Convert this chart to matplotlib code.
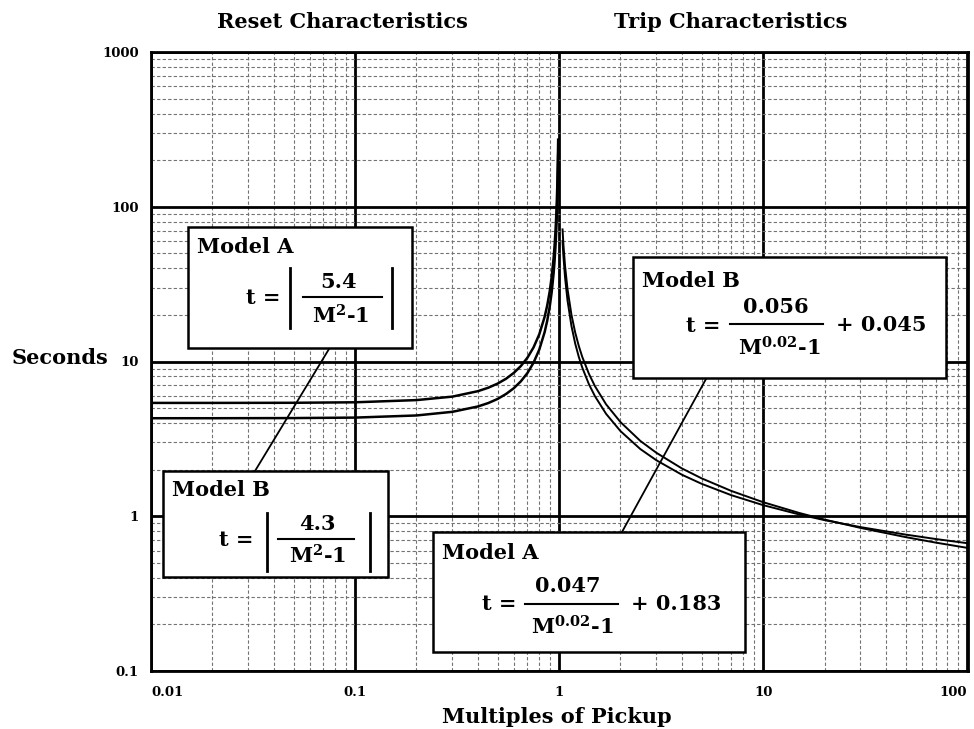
import matplotlib
matplotlib.use("Agg")
import matplotlib.pyplot as plt
from matplotlib.lines import Line2D
from matplotlib.patches import Rectangle
from matplotlib.ticker import LogLocator, NullFormatter, FixedLocator

# ---------------- data ----------------
reset_m = [0.01, 0.02, 0.05, 0.1, 0.2, 0.3, 0.4, 0.45, 0.5, 0.55, 0.6, 0.65, 0.7, 0.75, 0.8,
           0.85, 0.875, 0.9, 0.92, 0.94, 0.95, 0.96, 0.965, 0.97, 0.975, 0.98, 0.985, 0.99]
reset_a_t = [5.40, 5.40, 5.41, 5.45, 5.63, 5.93, 6.43, 6.77, 7.20, 7.74, 8.44, 9.35, 10.59,
             12.34, 15.0, 19.46, 23.04, 28.42, 35.16, 46.39, 55.38, 68.88, 78.52, 91.37,
             109.4, 136.4, 181.4, 271.4]
reset_b_t = [4.30, 4.30, 4.31, 4.34, 4.48, 4.73, 5.12, 5.39, 5.73, 6.17, 6.72, 7.45, 8.43,
             9.83, 11.94, 15.50, 18.35, 22.63, 27.99, 36.94, 44.10, 54.85, 62.52, 72.76,
             87.09, 108.6, 144.4, 216.1]

trip_m = [1.04, 1.05, 1.07, 1.1, 1.15, 1.2, 1.25, 1.3, 1.4, 1.5, 1.7, 2, 2.5, 3, 4, 5, 7,
          10, 15, 20, 30, 50, 70, 100]
trip_a_t = [60.08, 48.32, 34.89, 24.82, 16.97, 13.05, 10.69, 9.12, 7.14, 5.96, 4.59, 3.55,
            2.72, 2.30, 1.855, 1.620, 1.367, 1.180, 1.028, 0.944, 0.851, 0.761, 0.713, 0.670]
trip_b_t = [71.41, 57.40, 41.40, 29.40, 20.05, 15.37, 12.57, 10.69, 8.34, 6.92, 5.29, 4.06,
            3.07, 2.57, 2.037, 1.757, 1.456, 1.233, 1.051, 0.952, 0.841, 0.733, 0.676, 0.625]

x_ticks = [0.01, 0.1, 1, 10, 100]
x_tick_labels = ["0.01", "0.1", "1", "10", "100"]
y_ticks = [0.1, 1, 10, 100, 1000]
y_tick_labels = ["0.1", "1", "10", "100", "1000"]

# ---------------- style ----------------
FONT = 'DejaVu Serif'
plt.rcParams['font.family'] = [FONT]
plt.rcParams['font.weight'] = 'bold'
plt.rcParams['mathtext.fontset'] = 'custom'
plt.rcParams['mathtext.rm'] = FONT + ':bold'
plt.rcParams['mathtext.it'] = FONT + ':bold'
plt.rcParams['mathtext.bf'] = FONT + ':bold'

W, H = 974, 729
fig = plt.figure(figsize=(W / 100, H / 100), dpi=100)
L, R, T, B = 151, 968, 52, 671
ax = fig.add_axes([L / W, 1 - B / H, (R - L) / W, (B - T) / H])
ax.set_xscale('log')
ax.set_yscale('log')
ax.set_xlim(0.01, 101)
ax.set_ylim(0.1, 1000)

ax.xaxis.set_major_locator(FixedLocator(x_ticks))
ax.yaxis.set_major_locator(FixedLocator(y_ticks))
ax.xaxis.set_minor_locator(LogLocator(base=10, subs=range(2, 10), numticks=20))
ax.yaxis.set_minor_locator(LogLocator(base=10, subs=range(2, 10), numticks=20))
ax.xaxis.set_minor_formatter(NullFormatter())
ax.yaxis.set_minor_formatter(NullFormatter())
ax.set_xticklabels(x_tick_labels)
ax.set_yticklabels(y_tick_labels)
ax.tick_params(which='both', length=0)
ax.tick_params(axis='x', pad=11, labelsize=9.5)
ax.tick_params(axis='y', pad=9, labelsize=9.5)
xl = ax.get_xticklabels()
xl[0].set_horizontalalignment('left')
xl[-1].set_horizontalalignment('right')

ax.grid(which='major', color='black', lw=2.0, ls='-')
ax.grid(which='minor', color='0.45', lw=0.8, ls=(0, (3, 2)))
for s in ax.spines.values():
    s.set_linewidth(2)
    s.set_color('black')

ax.plot(reset_m, reset_a_t, color='black', lw=1.8, zorder=3)
ax.plot(reset_m, reset_b_t, color='black', lw=1.8, zorder=3)
ax.plot(trip_m, trip_a_t, color='black', lw=1.4, zorder=3)
ax.plot(trip_m, trip_b_t, color='black', lw=1.4, zorder=3)

# ---------------- helpers in figure pixel coordinates ----------------
def fx(x):
    return x / W

def fy(y):
    return 1 - y / H

def ftext(x, y, s, size=15, ha='center', va='center'):
    fig.text(fx(x), fy(y), s, fontsize=size, ha=ha, va=va, fontweight='bold', zorder=6)

def fline(x0, y0, x1, y1, lw=1.5):
    fig.add_artist(Line2D([fx(x0), fx(x1)], [fy(y0), fy(y1)], color='black', lw=lw,
                          transform=fig.transFigure, zorder=6))

def fbox(x0, y0, x1, y1):
    fig.add_artist(Rectangle((fx(x0), fy(y1)), fx(x1) - fx(x0), fy(y0) - fy(y1),
                             facecolor='white', edgecolor='black', lw=1.8,
                             transform=fig.transFigure, zorder=5))

# leader lines
fline(329, 349, 255, 471, lw=1.3)
fline(706, 379, 622, 532, lw=1.3)

# Reset Model A
fbox(188, 227, 412, 348)
ftext(197, 247, "Model A", ha='left')
ftext(281, 298, "t =", ha='right')
fline(290, 268, 290, 328, lw=2)
ftext(339, 282, "5.4")
fline(303, 297, 382, 297, lw=1.5)
ftext(341, 316, r"M$^{2}$-1")
fline(392, 268, 392, 328, lw=2)

# Reset Model B
fbox(163, 471, 388, 577)
ftext(172, 490, "Model B", ha='left')
ftext(254, 540, "t =", ha='right')
fline(267, 513, 267, 571, lw=2)
ftext(317, 524, "4.3")
fline(278, 539, 354, 539, lw=1.5)
ftext(318, 556, r"M$^{2}$-1")
fline(370, 513, 370, 571, lw=2)

# Trip Model B
fbox(633, 257, 946, 378)
ftext(642, 281, "Model B", ha='left')
ftext(721, 326, "t =", ha='right')
ftext(776, 307, "0.056")
fline(730, 324, 823, 324, lw=1.5)
ftext(779, 348, r"M$^{0.02}$-1")
ftext(836, 325, "+ 0.045", ha='left')

# Trip Model A
fbox(433, 532, 745, 652)
ftext(442, 553, "Model A", ha='left')
ftext(516, 604, "t =", ha='right')
ftext(568, 586, "0.047")
fline(525, 604, 618, 604, lw=1.5)
ftext(572, 627, r"M$^{0.02}$-1")
ftext(631, 604, "+ 0.183", ha='left')

# titles / axis labels
ftext(342, 22, "Reset Characteristics")
ftext(731, 22, "Trip Characteristics")
ftext(557, 717, "Multiples of Pickup")
ftext(60, 358, "Seconds")

fig.savefig("out.png", dpi=100)
